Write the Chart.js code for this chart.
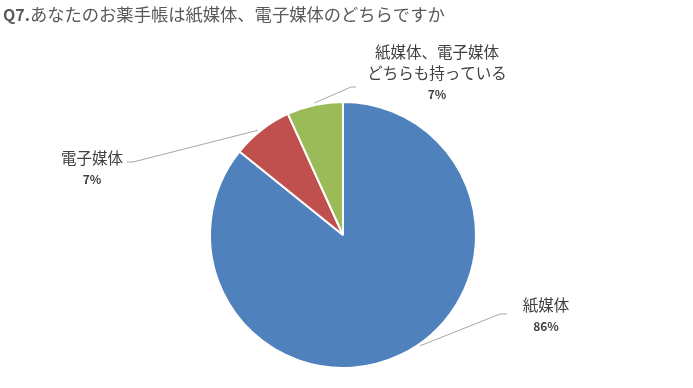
<!DOCTYPE html>
<html><head><meta charset="utf-8">
<script src="https://cdn.jsdelivr.net/npm/chart.js@4.4.0/dist/chart.umd.min.js"></script>
<style>html,body{margin:0;padding:0;background:#fff;}#wrap{width:693px;height:388px;position:relative;}</style>
</head><body><div id="wrap"><canvas id="c" width="693" height="388"></canvas></div>
<script>
const titleQ = "Q7.";
const titleText = "あなたのお薬手帳は紙媒体、電子媒体のどちらですか";
const categories = ["紙媒体", "電子媒体", "紙媒体、電子媒体\nどちらも持っている"];
const values = [85.8, 7.4, 6.8];
const percentLabels = ["86%", "7%", "7%"];
const colors = ["#4F81BD", "#C0504D", "#9BBB59"];

const FONT = "'Noto Sans CJK JP', 'Noto Sans', sans-serif";
const TEXT = "#404040";
// label layout: center x, first line y, elbow point, line end, anchor fraction along slice
const labelLayout = [
  {x: 546, y: 305, elbow: [500, 314], end: [507, 314], f: 0.47},
  {x: 92, y: 158, elbow: [133, 162], end: [127, 162], f: 0.45},
  {x: 437, y: 52, elbow: [351, 87], end: [356, 87], f: 0.5}
];

const overlay = {
  id: 'overlay',
  afterDraw(chart) {
    const ctx = chart.ctx;
    ctx.save();
    // title
    ctx.fillStyle = "#595959";
    ctx.textBaseline = "alphabetic";
    ctx.textAlign = "left";
    ctx.font = "bold 16px " + FONT;
    ctx.fillText(titleQ, 3, 21);
    const w = ctx.measureText(titleQ).width;
    ctx.font = "17.3px " + FONT;
    ctx.fillText(titleText, 3 + w, 21);

    const meta = chart.getDatasetMeta(0);
    meta.data.forEach((arc, i) => {
      const L = labelLayout[i];
      const a = arc.startAngle + (arc.endAngle - arc.startAngle) * L.f;
      const r = arc.outerRadius + 2;
      const sx = arc.x + Math.cos(a) * r;
      const sy = arc.y + Math.sin(a) * r;
      ctx.strokeStyle = "#A6A6A6";
      ctx.lineWidth = 1;
      ctx.beginPath();
      ctx.moveTo(sx, sy);
      ctx.lineTo(L.elbow[0], L.elbow[1]);
      ctx.lineTo(L.end[0], L.end[1]);
      ctx.stroke();

      ctx.fillStyle = TEXT;
      ctx.textAlign = "center";
      ctx.textBaseline = "middle";
      ctx.font = "15.5px " + FONT;
      const lines = categories[i].split("\n");
      lines.forEach((t, k) => ctx.fillText(t, L.x, L.y + k * 21));
      ctx.font = "bold 12px " + FONT;
      ctx.fillText(percentLabels[i], L.x, L.y + lines.length * 21);
    });
    ctx.restore();
  }
};

new Chart(document.getElementById('c'), {
  type: 'pie',
  data: {
    labels: categories,
    datasets: [{
      data: values,
      backgroundColor: colors,
      borderColor: "#ffffff",
      borderWidth: 2
    }]
  },
  options: {
    responsive: false,
    animation: false,
    layout: {padding: {left: 209, right: 216, top: 101, bottom: 19}},
    plugins: {legend: {display: false}, tooltip: {enabled: false}, title: {display: false}}
  },
  plugins: [overlay]
});
</script>
</body></html>
